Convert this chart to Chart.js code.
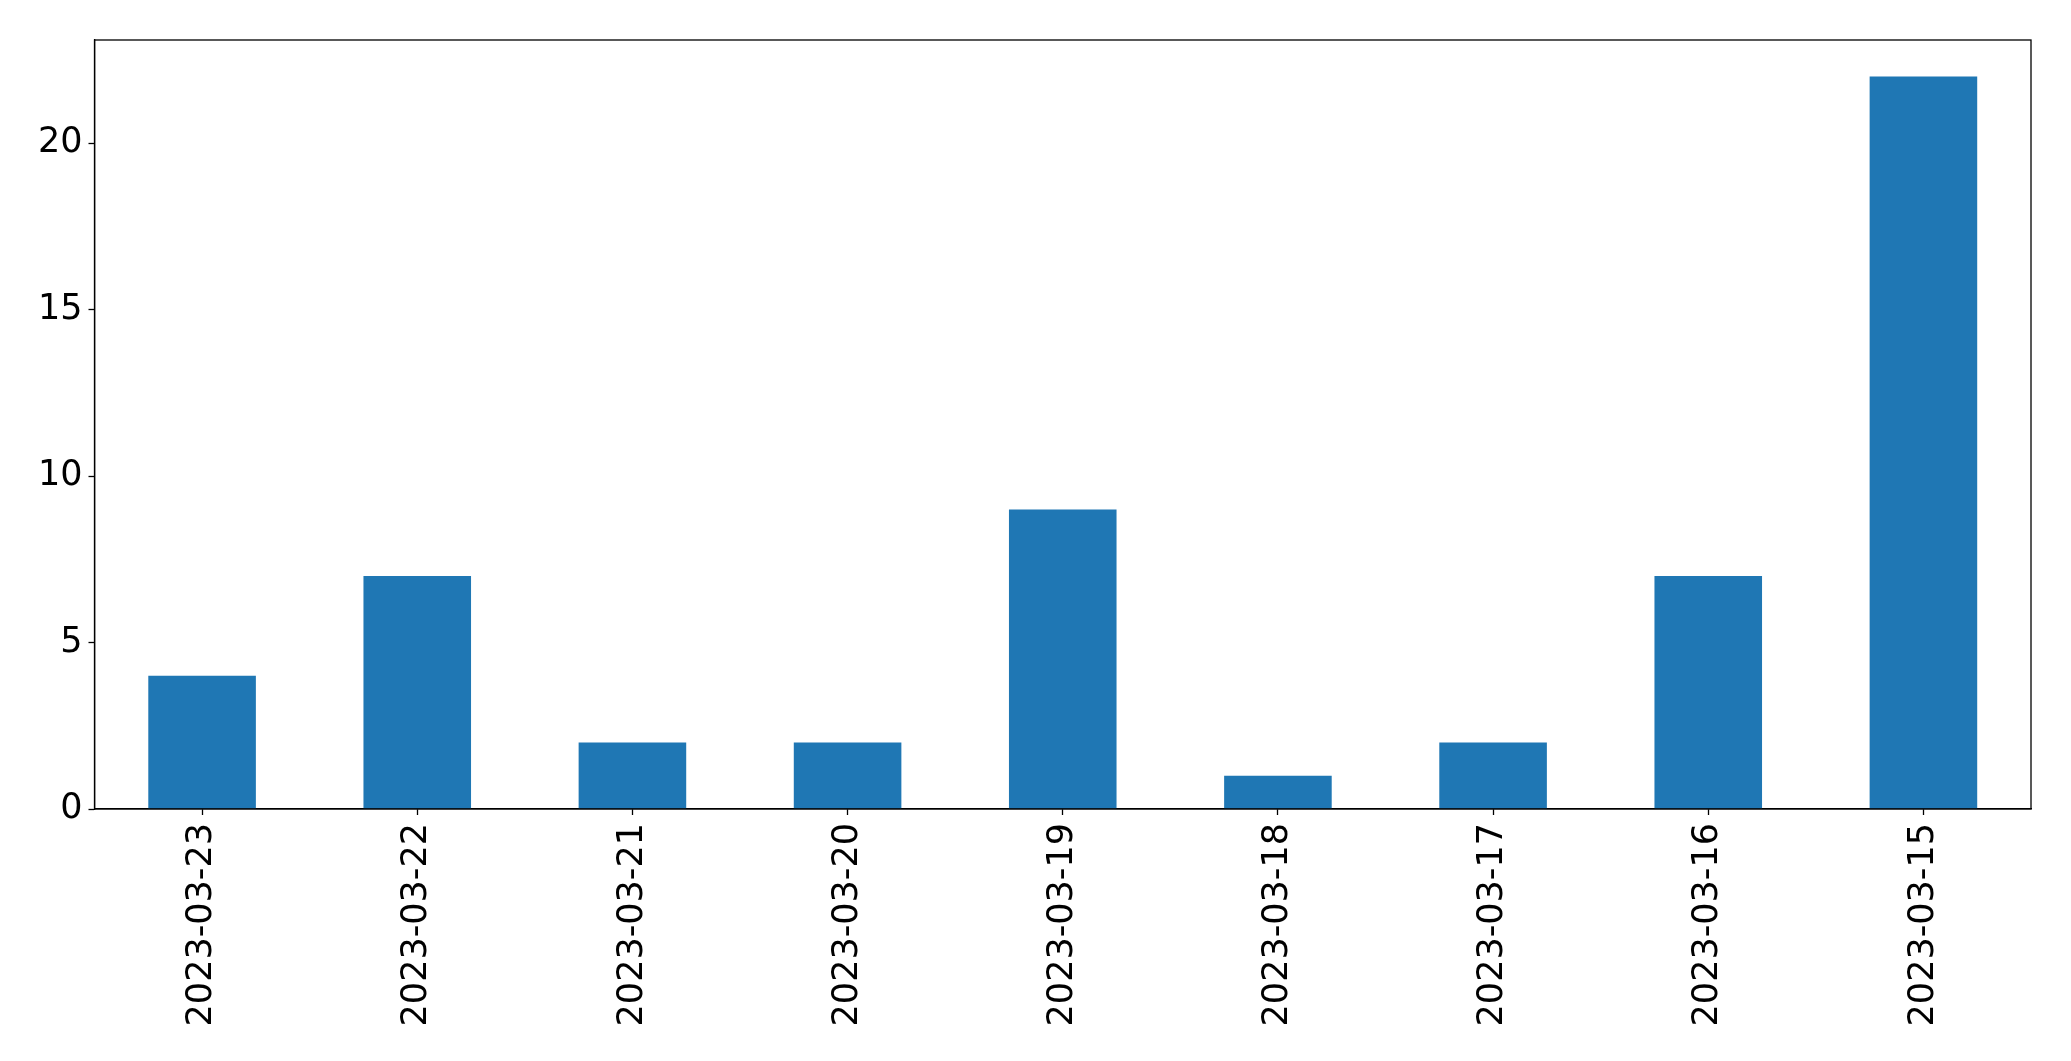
<!DOCTYPE html>
<html>
<head>
<meta charset="utf-8">
<script src="https://cdn.jsdelivr.net/npm/chart.js@4/dist/chart.umd.min.js"></script>
<style>
  body { margin: 0; background: #fff; }
  canvas { display: block; }
</style>
</head>
<body>
<canvas id="bar_chart" width="2071" height="1061"></canvas>
<script>
var dates = ["2023-03-23", "2023-03-22", "2023-03-21", "2023-03-20", "2023-03-19", "2023-03-18", "2023-03-17", "2023-03-16", "2023-03-15"];
var counts = [4, 7, 2, 2, 9, 1, 2, 7, 22];
var yTicks = [0, 5, 10, 15, 20];

// box around the plot area, like matplotlib spines
var frame = {
    id: 'frame',
    afterDraw: function (chart) {
        var a = chart.chartArea, ctx = chart.ctx;
        ctx.save();
        ctx.strokeStyle = '#000';
        ctx.lineWidth = 1.3;
        ctx.strokeRect(a.left, a.top, a.right - a.left, a.bottom - a.top);
        ctx.restore();
    }
};

Chart.defaults.font.family = 'DejaVu Sans';
Chart.defaults.color = '#000';

new Chart(document.getElementById("bar_chart").getContext("2d"), {
    type: 'bar',
    data: {
        labels: dates,
        datasets: [{
            data: counts,
            backgroundColor: '#1f77b4',
            categoryPercentage: 1,
            barPercentage: 0.5
        }]
    },
    options: {
        responsive: false,
        animation: false,
        layout: { padding: { left: 0, right: 40, top: 40, bottom: 0 } },
        plugins: { legend: { display: false }, tooltip: { enabled: false } },
        scales: {
            x: {
                grid: { offset: false, drawOnChartArea: false, tickLength: 6, color: '#000', tickWidth: 1.3 },
                border: { color: '#000', width: 1.3 },
                ticks: { font: { size: 35 }, minRotation: 90, maxRotation: 90, padding: 8 },
                afterFit: function (axis) { axis.height = 252; }
            },
            y: {
                min: 0,
                max: 23.1,
                grid: { drawOnChartArea: false, tickLength: 6, color: '#000', tickWidth: 1.3 },
                border: { color: '#000', width: 1.3 },
                ticks: { font: { size: 35 }, padding: 6 },
                afterBuildTicks: function (axis) {
                    axis.ticks = yTicks.map(function (v) { return { value: v }; });
                },
                afterFit: function (axis) { axis.width = 94.5; }
            }
        }
    },
    plugins: [frame]
});
</script>
</body>
</html>
